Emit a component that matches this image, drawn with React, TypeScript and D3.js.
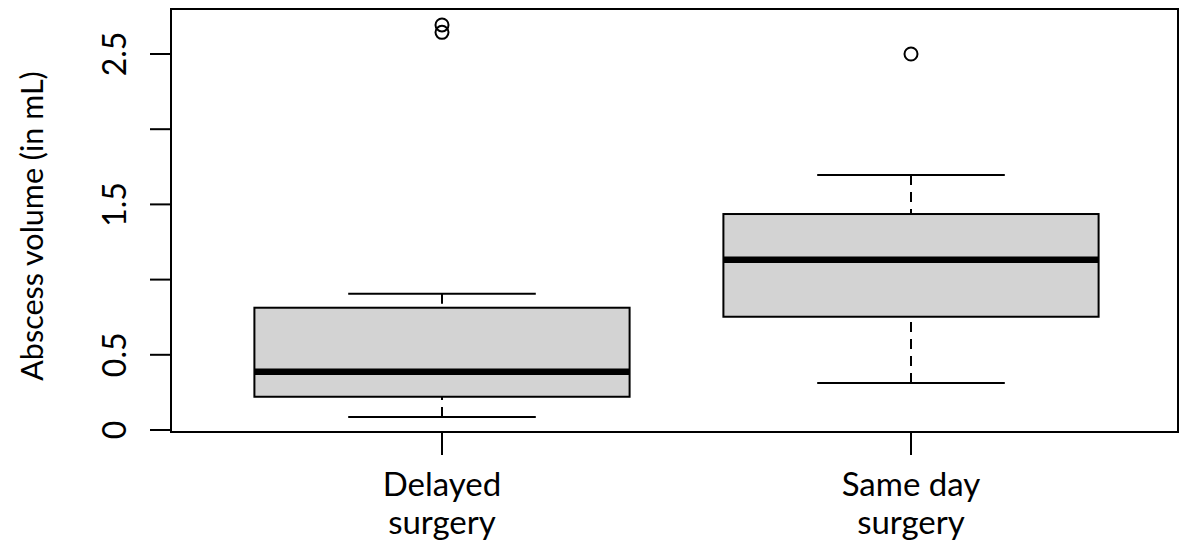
import * as d3 from "d3";

const WIDTH = 1180;
const HEIGHT = 544;
const FRAME = { left: 171, right: 1178, top: 9, bottom: 432 };
const FONT = "Lato, 'Open Sans', sans-serif";

// data
const categories = ["Delayed surgery", "Same day surgery"];
const labelLines = [
  ["Delayed", "surgery"],
  ["Same day", "surgery"],
];
const whiskerLow = [0.086, 0.312];
const q1 = [0.221, 0.753];
const median = [0.388, 1.132];
const q3 = [0.813, 1.436];
const whiskerHigh = [0.906, 1.695];
const outliers = [[2.644, 2.693], [2.5]];
const yTicks = [0, 0.5, 1, 1.5, 2, 2.5];
const yTickLabels = ["0", "0.5", "", "1.5", "", "2.5"];

export default function App() {
  const yScale = d3.scaleLinear().domain([0, 2.5]).range([430, 54]);
  const xScale = d3.scalePoint<string>().domain(categories).range([442, 911]);
  const step = xScale.step();
  const boxW = step * 0.8;
  const capW = boxW / 2;

  return (
    <svg
      width={WIDTH}
      height={HEIGHT}
      style={{ position: "absolute", left: 0, top: 0, background: "#fff" }}
    >
      {/* frame */}
      <rect
        x={FRAME.left}
        y={FRAME.top}
        width={FRAME.right - FRAME.left}
        height={FRAME.bottom - FRAME.top}
        fill="none"
        stroke="#000"
        strokeWidth={2}
      />

      {/* y axis */}
      {yTicks.map((t, i) => (
        <g key={i}>
          <line
            x1={FRAME.left - 21}
            x2={FRAME.left}
            y1={yScale(t)}
            y2={yScale(t)}
            stroke="#000"
            strokeWidth={2}
          />
          {yTickLabels[i] && (
            <text
              transform={`translate(126,${yScale(t)}) rotate(-90)`}
              textAnchor="middle"
              fontFamily={FONT}
              fontSize={32}
              fill="#000"
            >
              {yTickLabels[i]}
            </text>
          )}
        </g>
      ))}
      <text
        transform={`translate(43,226) rotate(-90)`}
        textAnchor="middle"
        fontFamily={FONT}
        fontSize={30.5}
        fill="#000"
      >
        Abscess volume (in mL)
      </text>

      {/* x axis */}
      {categories.map((c, i) => {
        const x = xScale(c) ?? 0;
        return (
          <g key={c}>
            <line
              x1={x}
              x2={x}
              y1={FRAME.bottom}
              y2={FRAME.bottom + 23}
              stroke="#000"
              strokeWidth={2}
            />
            {labelLines[i].map((l, j) => (
              <text
                key={j}
                x={x}
                y={496 + j * 38}
                textAnchor="middle"
                fontFamily={FONT}
                fontSize={33}
                fill="#000"
              >
                {l}
              </text>
            ))}
          </g>
        );
      })}

      {/* boxes */}
      {categories.map((c, i) => {
        const x = xScale(c) ?? 0;
        return (
          <g key={c}>
            <line
              x1={x}
              x2={x}
              y1={yScale(whiskerLow[i])}
              y2={yScale(q1[i])}
              stroke="#000"
              strokeWidth={2}
              strokeDasharray="10,7"
            />
            <line
              x1={x}
              x2={x}
              y1={yScale(whiskerHigh[i])}
              y2={yScale(q3[i])}
              stroke="#000"
              strokeWidth={2}
              strokeDasharray="10,7"
            />
            <line
              x1={x - capW / 2}
              x2={x + capW / 2}
              y1={yScale(whiskerLow[i])}
              y2={yScale(whiskerLow[i])}
              stroke="#000"
              strokeWidth={2}
            />
            <line
              x1={x - capW / 2}
              x2={x + capW / 2}
              y1={yScale(whiskerHigh[i])}
              y2={yScale(whiskerHigh[i])}
              stroke="#000"
              strokeWidth={2}
            />
            <rect
              x={x - boxW / 2}
              y={yScale(q3[i])}
              width={boxW}
              height={yScale(q1[i]) - yScale(q3[i])}
              fill="#d3d3d3"
              stroke="#000"
              strokeWidth={2}
            />
            <line
              x1={x - boxW / 2}
              x2={x + boxW / 2}
              y1={yScale(median[i])}
              y2={yScale(median[i])}
              stroke="#000"
              strokeWidth={6.5}
            />
            {outliers[i].map((o, k) => (
              <circle
                key={k}
                cx={x}
                cy={yScale(o)}
                r={6.5}
                fill="none"
                stroke="#000"
                strokeWidth={2}
              />
            ))}
          </g>
        );
      })}
    </svg>
  );
}
